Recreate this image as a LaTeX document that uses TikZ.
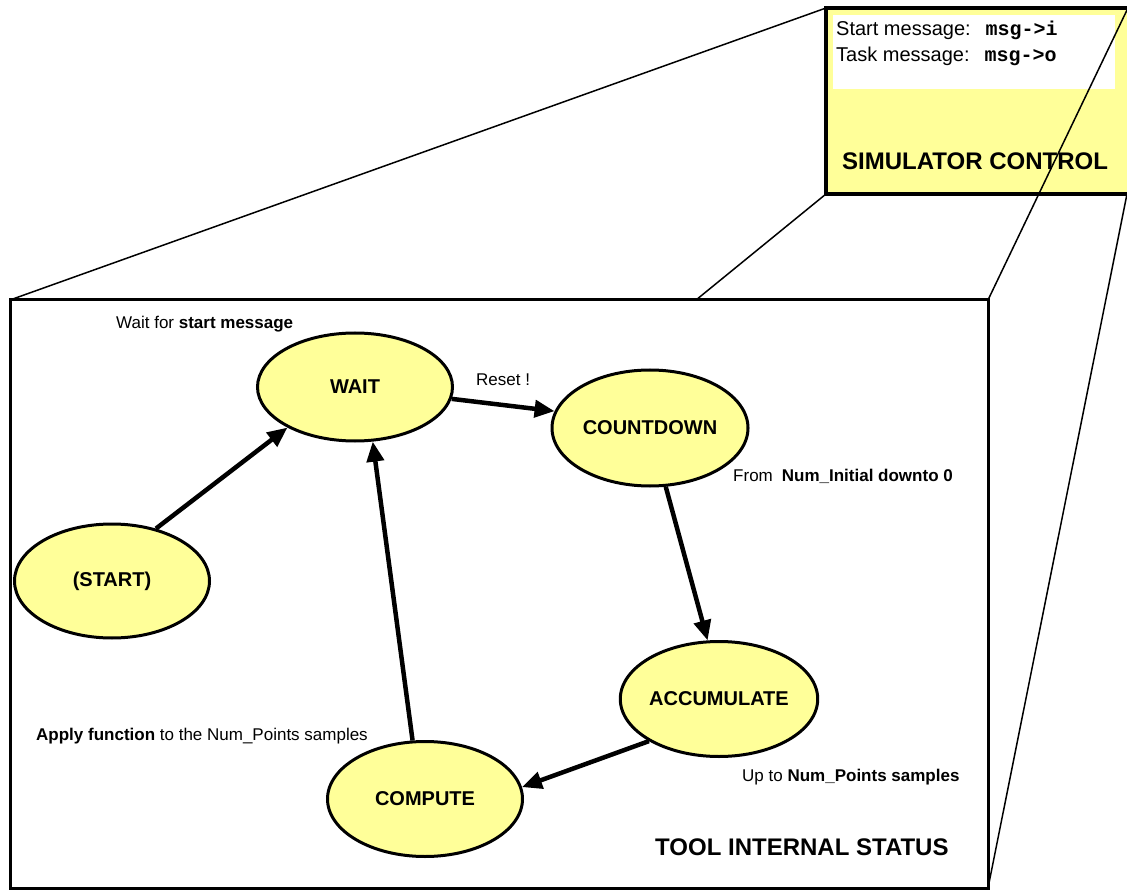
\documentclass[tikz,border=0pt]{standalone}
\usepackage{fontspec}
\setmainfont{Liberation Sans}
\setmonofont{Liberation Mono}
\usetikzlibrary{arrows.meta,shapes.geometric}
\definecolor{stateyellow}{HTML}{FFFF99}
\begin{document}
\begin{tikzpicture}[x=1pt,y=-1pt,
  state/.style={ellipse, draw, line width=3pt, fill=stateyellow, minimum width=195pt, minimum height=114pt, inner sep=0pt, font=\fontsize{20}{24}\selectfont\bfseries},
  trans/.style={line width=4.5pt, -{Triangle[length=20pt,width=17pt]}},
  lbl/.style={anchor=base west, inner sep=0pt, font=\fontsize{17}{20}\selectfont},
  title/.style={anchor=base west, inner sep=0pt, font=\fontsize{24}{28}\selectfont\bfseries},
  persp/.style={line width=1.5pt}]
\useasboundingbox (0,0) rectangle (1127,890);
% perspective corners
\coordinate (bTL) at (10,300);
\coordinate (bTM) at (696,300);
\coordinate (bTR) at (988,300);
\coordinate (bBR) at (988,888);
\coordinate (sTL) at (826,8);
\coordinate (sBL) at (826,194);
\coordinate (sBR) at (1127,194);
\coordinate (sTR) at (1127,10);
% simulator control box
\draw[line width=4pt, fill=stateyellow] (826,8) rectangle (1135,194);
\fill[white] (833,15) rectangle (1115,89);
\node[lbl, font=\fontsize{20}{24}\selectfont] (sm) at (836,36) {Start message:\hspace{15pt}\texttt{\bfseries msg->i}};
\node[lbl, font=\fontsize{20}{24}\selectfont] (tm) at (836,62) {Task message:\hspace{15pt}\texttt{\bfseries msg->o}};
\node[title] (simctl) at (842,170) {SIMULATOR CONTROL};
% tool box
\draw[line width=3pt] (10,300) rectangle (988,888);
\draw[persp] (bTL) -- (sTL);
\draw[persp] (bTM) -- (sBL);
\draw[persp] (bBR) -- (sBR);
\draw[persp] (bTR) -- (sTR);
% states
\node[state, minimum height=108pt] (wait) at (355,387) {WAIT};
\node[state, minimum width=196pt, minimum height=116pt] (countdown) at (650,428) {COUNTDOWN};
\node[state] (start) at (112,581) {(START)};
\node[state, minimum height=115pt] (accumulate) at (719,699) {ACCUMULATE};
\node[state, minimum height=115pt] (compute) at (425,799) {COMPUTE};
% transitions
\draw[trans] (start.50) -- (wait.211);
\draw[trans] (wait.353) -- (countdown.170);
\draw[trans] (countdown.285) -- (accumulate.101);
\draw[trans] (accumulate.211) -- (compute.7);
\draw[trans] (compute.102) -- (wait.288);
% labels
\node[lbl] (l1) at (116,329) {Wait for \textbf{start message}};
\node[lbl] (l2) at (476,386) {Reset !};
\node[lbl] (l3) at (733,481) {From\hspace{9pt}\textbf{Num\_Initial downto 0}};
\node[lbl] (l4) at (742,781) {Up to \textbf{Num\_Points samples}};
\node[lbl] (l5) at (36,740) {\textbf{Apply function} to the Num\_Points samples};
\node[title] (tis) at (655,855) {TOOL INTERNAL STATUS};
\end{tikzpicture}
\end{document}
